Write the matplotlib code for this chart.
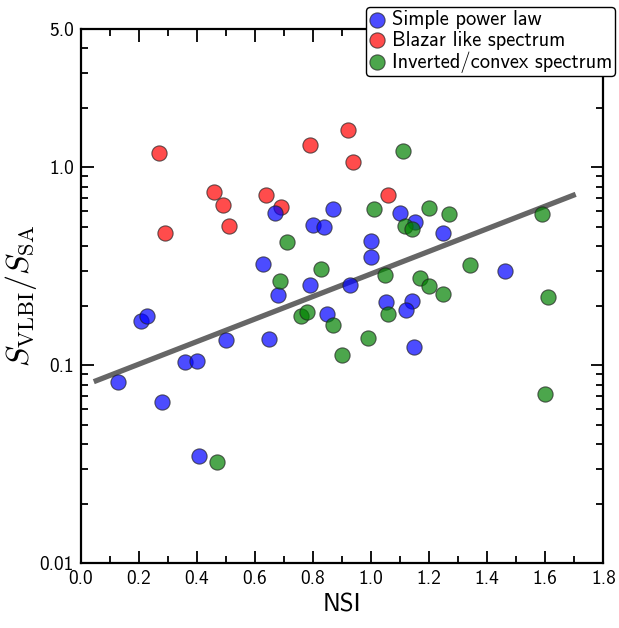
import numpy as np
import matplotlib
matplotlib.use("Agg")
import matplotlib.pyplot as plt
from matplotlib.ticker import FixedLocator, FixedFormatter, MultipleLocator, LogLocator, NullFormatter

plt.rcParams['font.family'] = ['cmss10', 'DejaVu Sans']
plt.rcParams['mathtext.fontset'] = 'cm'
plt.rcParams['axes.unicode_minus'] = False

# Simple power law (blue)
spl_nsi = [0.669, 0.799, 0.839, 0.869, 0.629, 0.790, 0.679, 0.929, 1.100, 1.150,
           1.249, 1.000, 1.000, 1.460, 0.209, 0.228, 0.129, 0.280, 0.359, 0.399,
           0.499, 0.648, 0.849, 0.408, 1.050, 1.140, 1.119, 1.149]
spl_ratio = [0.586, 0.511, 0.501, 0.614, 0.325, 0.254, 0.226, 0.256, 0.590, 0.531,
             0.466, 0.424, 0.351, 0.299, 0.168, 0.177, 0.082, 0.0653, 0.1035, 0.1047,
             0.1337, 0.1353, 0.181, 0.0350, 0.2096, 0.212, 0.190, 0.1238]

# Blazar like spectrum (red)
blz_nsi = [0.270, 0.458, 0.489, 0.510, 0.290, 0.639, 0.690, 0.789, 0.919, 0.939, 1.058]
blz_ratio = [1.181, 0.748, 0.647, 0.507, 0.466, 0.727, 0.630, 1.301, 1.548, 1.067, 0.725]

# Inverted/convex spectrum (green)
inv_nsi = [0.709, 0.829, 0.687, 1.110, 1.010, 1.198, 1.269, 1.116, 1.141, 1.590,
           1.049, 1.169, 1.199, 1.340, 1.249, 1.609, 0.759, 0.778, 0.869, 0.900,
           0.989, 1.058, 1.600, 0.469]
inv_ratio = [0.420, 0.306, 0.268, 1.213, 0.616, 0.625, 0.581, 0.505, 0.488, 0.581,
             0.286, 0.277, 0.252, 0.321, 0.229, 0.222, 0.178, 0.187, 0.159, 0.1127,
             0.1374, 0.1816, 0.0714, 0.0324]

# fit line end points
fit_nsi = [0.045, 1.705]
fit_ratio = [0.0827, 0.731]

fig = plt.figure(figsize=(6.19, 6.28), dpi=100)
ax = fig.add_axes([0.1304, 0.103, 0.8442, 0.8508])

ax.plot(fit_nsi, fit_ratio, color='#555555', lw=3.8, alpha=0.9, solid_capstyle='butt', zorder=1)

ms = 120
sc_r = ax.scatter(blz_nsi, blz_ratio, s=ms, c='red', alpha=0.7, edgecolors='#222222', linewidths=0.8, zorder=2)
sc_b = ax.scatter(spl_nsi, spl_ratio, s=ms, c='blue', alpha=0.7, edgecolors='#222222', linewidths=0.8, zorder=3)
sc_g = ax.scatter(inv_nsi, inv_ratio, s=ms, c='green', alpha=0.7, edgecolors='#222222', linewidths=0.8, zorder=4)

ax.set_yscale('log')
ax.set_xlim(0, 1.8)
ax.set_ylim(0.01, 5.0)

ax.xaxis.set_major_locator(MultipleLocator(0.2))
ax.xaxis.set_minor_locator(MultipleLocator(0.1))
ax.xaxis.set_major_formatter(matplotlib.ticker.FormatStrFormatter('%.1f'))

ax.yaxis.set_major_locator(FixedLocator([0.01, 0.1, 1.0, 5.0]))
ax.yaxis.set_major_formatter(FixedFormatter(['0.01', '0.1', '1.0', '5.0']))
ax.yaxis.set_minor_locator(LogLocator(base=10, subs=np.arange(2, 10)))
ax.yaxis.set_minor_formatter(NullFormatter())

ax.tick_params(which='both', direction='in', top=True, right=True, labelsize=14, width=1.3)
ax.tick_params(which='major', length=9, pad=5)
ax.tick_params(which='minor', length=5)
for sp in ax.spines.values():
    sp.set_linewidth(1.6)

ax.set_xlabel('NSI', fontsize=18, labelpad=4)
ax.set_ylabel(r'$S_{\rm VLBI}/S_{\rm SA}$', fontsize=23, labelpad=0)

# legend sits partly above the axes, top right
leg = ax.legend([sc_b, sc_r, sc_g],
                ['Simple power law', 'Blazar like spectrum', 'Inverted/convex spectrum'],
                loc='upper right', bbox_to_anchor=(1.0224, 1.0412), fontsize=14.7,
                scatterpoints=1, handletextpad=0.3, borderpad=0.15, labelspacing=0.08,
                borderaxespad=0.0, handlelength=0.8, framealpha=1.0, fancybox=True)
leg.get_frame().set_edgecolor('black')
leg.set_zorder(10)

fig.savefig('out.png', dpi=100)
